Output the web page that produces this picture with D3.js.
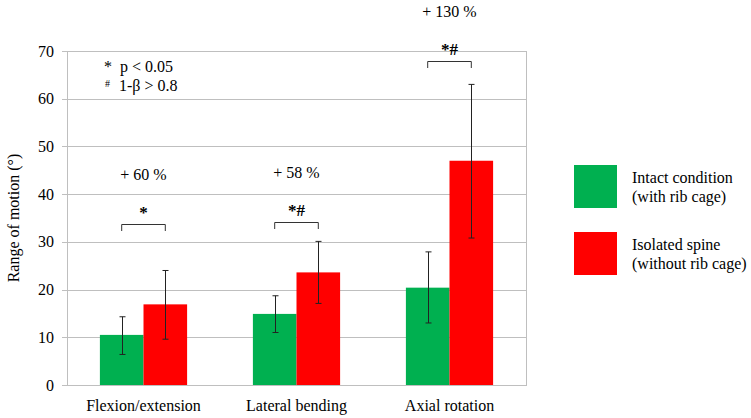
<!DOCTYPE html>
<html><head><meta charset="utf-8">
<script src="https://cdn.jsdelivr.net/npm/d3@7"></script>
</head><body style="margin:0;background:#fff"><svg id="c" width="751" height="418" font-family="Liberation Serif"></svg>
<script>
const categories = ["Flexion/extension", "Lateral bending", "Axial rotation"];
const seriesNames = ["Intact condition\n(with rib cage)", "Isolated spine\n(without rib cage)"];
const intactMean = [10.5, 14.9, 20.4];
const intactLow = [6.4, 11.0, 13.0];
const intactHigh = [14.3, 18.7, 27.9];
const isolatedMean = [16.9, 23.6, 47.0];
const isolatedLow = [9.6, 17.1, 30.8];
const isolatedHigh = [24.0, 30.1, 63.0];
const sigMarks = ["*", "*#", "*#"];
const sigBracketY = [33.8, 34.1, 67.9];
const increaseLabels = ["+ 60 %", "+ 58 %", "+ 130 %"];
const yTicks = [0, 10, 20, 30, 40, 50, 60, 70];
const colors = ["#00b050", "#ff0000"];

const FONT = "Liberation Serif";
const svg = d3.select("#c");
const m = {l: 67, r: 225, t: 51, b: 33};
const W = 751, H = 418;
const x = d3.scaleBand().domain(categories).range([m.l, W - m.r]).paddingInner(0.43).paddingOuter(0.215);
const y = d3.scaleLinear().domain([0, 70]).range([H - m.b, m.t]);
const bw = x.bandwidth() / 2;

svg.append("g").selectAll("line").data(yTicks).join("line")
  .attr("x1", m.l - 5).attr("x2", W - m.r)
  .attr("y1", d => Math.round(y(d)) + 0.5).attr("y2", d => Math.round(y(d)) + 0.5)
  .attr("stroke", "#bfbfbf").attr("stroke-width", 1);
svg.append("rect").attr("x", m.l + 0.5).attr("y", Math.round(y(70)) + 0.5).attr("width", W - m.r - m.l).attr("height", Math.round(y(0)) - Math.round(y(70)))
  .attr("fill", "none").attr("stroke", "#bfbfbf");

const ya = svg.append("g").attr("transform", `translate(${m.l},0)`)
  .call(d3.axisLeft(y).tickValues(yTicks).tickSize(0).tickPadding(13));
ya.select(".domain").remove();
ya.selectAll("text").attr("font-size", 16);

const xa = svg.append("g").attr("transform", `translate(0,${y(0)})`)
  .call(d3.axisBottom(x).tickSize(0).tickPadding(15));
xa.select(".domain").remove();
xa.selectAll("text").attr("font-size", 16);

svg.append("text").attr("transform", `translate(19,${(y(0)+y(70))/2}) rotate(-90)`)
  .attr("text-anchor", "middle").attr("font-size", 16).text("Range of motion (°)");

const series = [
  {mean: intactMean, lo: intactLow, hi: intactHigh, c: colors[0], off: 0},
  {mean: isolatedMean, lo: isolatedLow, hi: isolatedHigh, c: colors[1], off: 1}
];
series.forEach(s => {
  svg.append("g").selectAll("rect").data(categories).join("rect")
    .attr("x", d => x(d) + s.off * bw).attr("width", bw)
    .attr("y", (d, i) => y(s.mean[i])).attr("height", (d, i) => y(0) - y(s.mean[i]))
    .attr("fill", s.c);
});
series.forEach(s => {
  const eb = svg.append("g").attr("stroke", "#222").attr("stroke-width", 1);
  categories.forEach((d, i) => {
    const cx = Math.round(x(d) + s.off * bw + bw / 2) + 0.5;
    eb.append("line").attr("x1", cx).attr("x2", cx).attr("y1", y(s.lo[i])).attr("y2", y(s.hi[i]));
    eb.append("line").attr("x1", cx - 3).attr("x2", cx + 3).attr("y1", y(s.lo[i])).attr("y2", y(s.lo[i]));
    eb.append("line").attr("x1", cx - 3).attr("x2", cx + 3).attr("y1", y(s.hi[i])).attr("y2", y(s.hi[i]));
  });
});

categories.forEach((d, i) => {
  const x1 = x(d) + bw / 2, x2 = x(d) + bw * 1.5, yy = Math.round(y(sigBracketY[i])) + 0.5;
  svg.append("path").attr("d", `M${x1},${yy + 6.5}V${yy}H${x2}V${yy + 6.5}`)
    .attr("fill", "none").attr("stroke", "#333").attr("stroke-width", 1);
  svg.append("text").attr("x", x(d) + bw).attr("y", yy - 7).attr("text-anchor", "middle")
    .attr("font-size", 17).attr("font-weight", "bold").text(sigMarks[i]);
  svg.append("text").attr("x", x(d) + bw).attr("y", yy - 45).attr("text-anchor", "middle")
    .attr("font-size", 16).text(increaseLabels[i]);
});

svg.append("text").attr("x", 104).attr("y", 72).attr("font-size", 16).text("*");
svg.append("text").attr("x", 120).attr("y", 72).attr("font-size", 16).text("p < 0.05");
svg.append("text").attr("x", 105).attr("y", 87).attr("font-size", 10).text("#");
svg.append("text").attr("x", 119).attr("y", 91).attr("font-size", 16).text("1-β > 0.8");

const lg = svg.append("g");
seriesNames.forEach((n, i) => {
  const yy = 165 + i * 67;
  lg.append("rect").attr("x", 574).attr("y", yy).attr("width", 43).attr("height", 43).attr("fill", colors[i]);
  const t = lg.append("text").attr("x", 632).attr("y", yy + 18).attr("font-size", 16);
  n.split("\n").forEach((line, j) => t.append("tspan").attr("x", 632).attr("dy", j ? 19 : 0).text(line));
});

svg.selectAll("g").attr("font-family", FONT);
svg.selectAll("text").attr("font-family", FONT).attr("fill", "#000");
</script></body></html>
